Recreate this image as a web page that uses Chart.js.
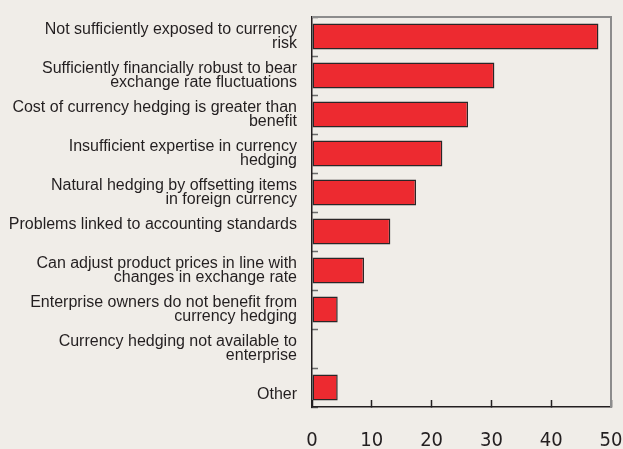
<!DOCTYPE html>
<html>
<head>
<meta charset="utf-8">
<script src="https://cdn.jsdelivr.net/npm/chart.js@4.4.1/dist/chart.umd.min.js"></script>
<style>
  html, body { margin: 0; padding: 0; background: #f0ede8; }
  canvas { display: block; }
</style>
</head>
<body>
<canvas id="reasonChart" width="623" height="449"></canvas>
<script>
// reasons for not hedging (multi-line labels as arrays)
const categories = [
  ['Not sufficiently exposed to currency', 'risk'],
  ['Sufficiently financially robust to bear', 'exchange rate fluctuations'],
  ['Cost of currency hedging is greater than', 'benefit'],
  ['Insufficient expertise in currency', 'hedging'],
  ['Natural hedging by offsetting items', 'in foreign currency'],
  ['Problems linked to accounting standards', ''],
  ['Can adjust product prices in line with', 'changes in exchange rate'],
  ['Enterprise owners do not benefit from', 'currency hedging'],
  ['Currency hedging not available to', 'enterprise'],
  ['', 'Other']
];
const shares = [47.9, 30.5, 26.1, 21.8, 17.4, 13.1, 8.7, 4.3, 0, 4.3];
const xMin = 0;
const xMax = 50;
const xStep = 10;

const ink = '#231f20';
const frameGray = '#8c8c8c';

// labels must not push the plot area around
function noOverflow(s) {
  s.paddingTop = 0;
  s.paddingBottom = 0;
  s.paddingLeft = 0;
  s.paddingRight = 0;
}

// gray line along the top of the plot frame
const topFrame = {
  id: 'topFrame',
  afterDraw(chart) {
    const a = chart.chartArea;
    const c = chart.ctx;
    c.save();
    c.strokeStyle = frameGray;
    c.lineWidth = 2;
    c.beginPath();
    c.moveTo(a.left, a.top);
    c.lineTo(a.right + 1, a.top);
    c.stroke();
    c.restore();
  }
};

const ctx = document.getElementById('reasonChart').getContext('2d');

new Chart(ctx, {
  type: 'bar',
  data: {
    labels: categories,
    datasets: [{
      data: shares,
      backgroundColor: '#ed2a30',
      borderColor: '#2b2627',
      borderWidth: 1.5,
      borderSkipped: false,
      barPercentage: 0.67,
      categoryPercentage: 1.0
    }]
  },
  options: {
    indexAxis: 'y',
    responsive: false,
    animation: false,
    layout: { padding: { top: 17, right: 12, left: 0, bottom: 0 } },
    plugins: {
      legend: { display: false },
      tooltip: { enabled: false }
    },
    scales: {
      x: {
        position: 'bottom',
        min: xMin,
        max: xMax,
        afterFit: s => { s.height = 42; noOverflow(s); },
        ticks: {
          stepSize: xStep,
          color: ink,
          padding: 29,
          maxRotation: 0,
          font: { family: "'DejaVu Sans Condensed', 'Liberation Sans', sans-serif", size: 20 }
        },
        grid: {
          drawOnChartArea: false,
          drawTicks: true,
          tickLength: -7,
          tickColor: ink,
          tickWidth: 1.5
        },
        border: { display: true, color: ink, width: 1.5 }
      },
      y: {
        position: 'left',
        afterFit: s => { s.width = 312; noOverflow(s); },
        ticks: {
          color: ink,
          padding: 21,
          autoSkip: false,
          font: { family: "'Liberation Sans', Arial, sans-serif", size: 16, lineHeight: '14px' }
        },
        grid: {
          offset: true,
          drawOnChartArea: false,
          drawTicks: true,
          tickLength: -6,
          tickColor: '#6b6b6b',
          tickWidth: 1.5
        },
        border: { display: true, color: ink, width: 1.5 }
      },
      yRight: {
        position: 'right',
        type: 'category',
        labels: categories,
        afterFit: s => { s.width = 0; noOverflow(s); },
        ticks: { display: false },
        grid: { drawOnChartArea: false, drawTicks: false },
        border: { display: true, color: frameGray, width: 2 }
      }
    }
  },
  plugins: [topFrame]
});
</script>
</body>
</html>
